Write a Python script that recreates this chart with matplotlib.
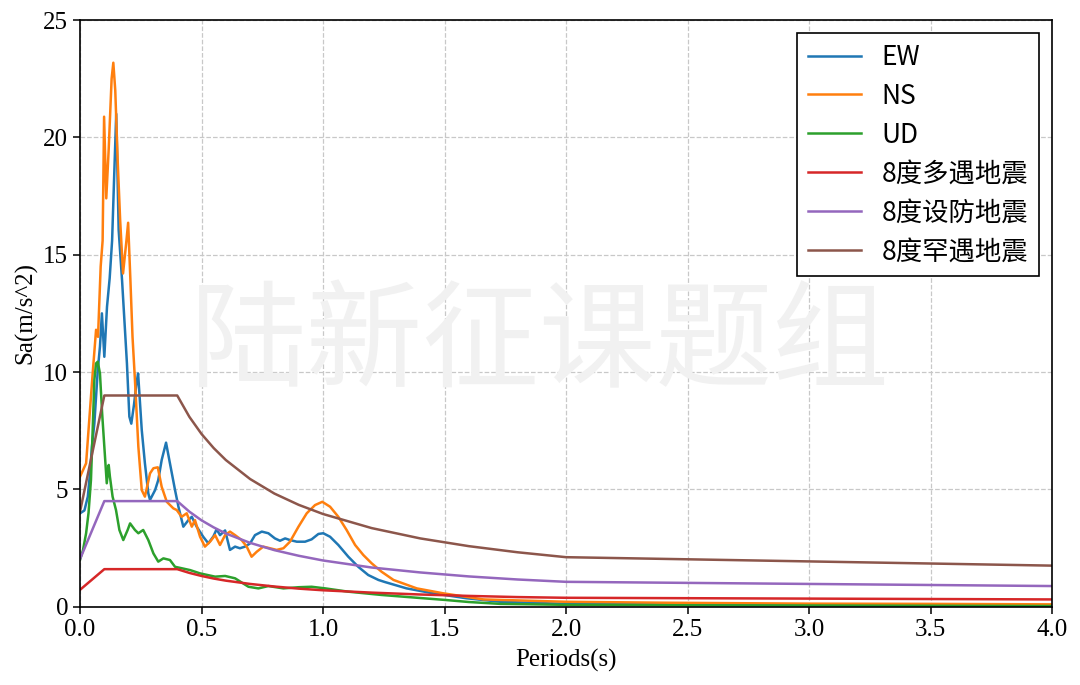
import matplotlib
matplotlib.use("Agg")
import matplotlib.pyplot as plt

# ---------------- data ----------------
EW_T = [0.0, 0.018, 0.032, 0.041, 0.049, 0.059, 0.066, 0.073, 0.082, 0.09, 0.1, 0.111,
        0.122, 0.132, 0.141, 0.149, 0.159, 0.173, 0.193, 0.203, 0.211, 0.222, 0.232, 0.239,
        0.254, 0.267, 0.281, 0.288, 0.309, 0.322, 0.336, 0.354, 0.37, 0.391, 0.405, 0.425,
        0.446, 0.46, 0.48, 0.507, 0.528, 0.549, 0.562, 0.576, 0.597, 0.617, 0.638, 0.658,
        0.679, 0.7, 0.72, 0.748, 0.775, 0.802, 0.823, 0.844, 0.864, 0.892, 0.926, 0.953,
        0.981, 1.001, 1.029, 1.063, 1.104, 1.145, 1.186, 1.228, 1.255, 1.344, 1.454, 1.59,
        1.73, 2.0, 2.5, 3.0, 3.5, 4.0]
EW_Sa = [3.98, 4.1, 4.69, 5.68, 6.82, 7.81, 8.95, 10.08, 11.08, 12.5, 10.65, 12.78,
         14.0, 15.6, 18.5, 21.0, 16.05, 13.9, 10.37, 8.1, 7.8, 8.6, 9.5, 9.94,
         7.53, 6.11, 4.83, 4.55, 4.97, 5.4, 6.25, 6.99, 6.11, 4.97, 4.26, 3.41,
         3.69, 3.83, 3.41, 2.98, 2.7, 3.0, 3.3, 3.05, 3.25, 2.42, 2.56, 2.49,
         2.56, 2.7, 3.05, 3.2, 3.13, 2.91, 2.81, 2.91, 2.84, 2.77, 2.77, 2.87,
         3.1, 3.13, 2.98, 2.63, 2.13, 1.7, 1.35, 1.14, 1.05, 0.78, 0.57, 0.36,
         0.21, 0.12, 0.1, 0.08, 0.07, 0.06]

NS_T = [0.0, 0.025, 0.045, 0.052, 0.06, 0.066, 0.074, 0.085, 0.093, 0.099, 0.108, 0.118,
        0.13, 0.137, 0.145, 0.155, 0.165, 0.177, 0.19, 0.198, 0.207, 0.216, 0.226, 0.24,
        0.254, 0.267, 0.288, 0.302, 0.32, 0.336, 0.357, 0.384, 0.398, 0.418, 0.439, 0.46,
        0.473, 0.494, 0.514, 0.535, 0.556, 0.576, 0.597, 0.617, 0.638, 0.665, 0.686, 0.706,
        0.727, 0.754, 0.782, 0.809, 0.837, 0.864, 0.899, 0.933, 0.967, 0.997, 1.029, 1.063,
        1.097, 1.132, 1.166, 1.2, 1.241, 1.29, 1.386, 1.495, 1.66, 2.0, 2.4, 3.0, 3.5, 4.0]
NS_Sa = [5.54, 6.11, 8.95, 9.94, 11.0, 11.8, 11.5, 14.5, 15.6, 20.88, 17.4, 19.5,
         22.5, 23.18, 22.0, 19.0, 16.5, 14.2, 15.5, 16.36, 14.0, 11.5, 9.66, 6.82,
         4.97, 4.69, 5.68, 5.9, 5.94, 5.11, 4.47, 4.19, 4.12, 3.83, 3.98, 3.41,
         3.69, 2.98, 2.56, 2.77, 3.05, 2.63, 3.05, 3.2, 3.05, 2.84, 2.56, 2.13,
         2.34, 2.56, 2.49, 2.42, 2.49, 2.77, 3.41, 3.98, 4.33, 4.47, 4.26, 3.83,
         3.27, 2.63, 2.2, 1.85, 1.49, 1.14, 0.78, 0.57, 0.31, 0.21, 0.17, 0.13, 0.12, 0.1]

UD_T = [0.0, 0.012, 0.025, 0.035, 0.045, 0.052, 0.059, 0.066, 0.073, 0.082, 0.091, 0.1,
        0.11, 0.118, 0.123, 0.134, 0.148, 0.162, 0.178, 0.196, 0.206, 0.226, 0.24, 0.26,
        0.281, 0.302, 0.322, 0.343, 0.37, 0.391, 0.418, 0.453, 0.494, 0.556, 0.597, 0.638,
        0.693, 0.734, 0.775, 0.837, 0.899, 0.953, 1.01, 1.104, 1.241, 1.4, 1.5, 1.6,
        1.73, 2.0, 2.5, 3.0, 3.5, 4.0]
UD_Sa = [2.0, 2.4, 3.13, 4.0, 5.4, 7.53, 9.66, 10.37, 10.44, 9.94, 8.24, 6.82,
         5.26, 6.04, 5.54, 4.69, 4.12, 3.27, 2.84, 3.27, 3.55, 3.27, 3.13, 3.27,
         2.84, 2.27, 1.92, 2.06, 1.99, 1.7, 1.64, 1.56, 1.42, 1.28, 1.31, 1.21,
         0.85, 0.78, 0.88, 0.78, 0.83, 0.85, 0.78, 0.64, 0.5, 0.37, 0.29, 0.2,
         0.12, 0.08, 0.06, 0.05, 0.04, 0.03]

CODE_T = [0.0, 0.1, 0.4, 0.45, 0.5, 0.55, 0.6, 0.7, 0.8, 0.9, 1.0, 1.2, 1.4, 1.6, 1.8, 2.0, 4.0]
FREQ_Sa = [0.72, 1.6, 1.6, 1.44, 1.31, 1.20, 1.11, 0.97, 0.86, 0.77, 0.70, 0.60, 0.52, 0.46,
           0.41, 0.38, 0.31]
DESIGN_Sa = [2.03, 4.5, 4.5, 4.05, 3.68, 3.38, 3.12, 2.72, 2.41, 2.17, 1.97, 1.67, 1.46, 1.29,
             1.16, 1.06, 0.88]
RARE_Sa = [4.05, 9.0, 9.0, 8.09, 7.36, 6.76, 6.25, 5.44, 4.82, 4.34, 3.95, 3.35, 2.91, 2.58,
           2.32, 2.11, 1.75]

LABELS = ["EW", "NS", "UD", "8度多遇地震", "8度设防地震", "8度罕遇地震"]
X_TICKS = [0.0, 0.5, 1.0, 1.5, 2.0, 2.5, 3.0, 3.5, 4.0]
Y_TICKS = [0, 5, 10, 15, 20, 25]

# ---------------- figure ----------------
SERIF = ["Liberation Serif", "DejaVu Serif"]
CJK = ["Noto Sans CJK SC", "DejaVu Sans"]

fig = plt.figure(figsize=(10.8, 6.85), dpi=100)
ax = fig.add_axes([0.0741, 0.1143, 0.9, 0.8565])

# watermark
fig.text(0.5, 0.495, "陆新征课题组", family=CJK, fontsize=84, color="#f1f1f1",
         ha="center", va="center", zorder=0)

lw = 1.8
ax.plot(EW_T, EW_Sa, color="tab:blue", lw=lw, label=LABELS[0])
ax.plot(NS_T, NS_Sa, color="tab:orange", lw=lw, label=LABELS[1])
ax.plot(UD_T, UD_Sa, color="tab:green", lw=lw, label=LABELS[2])
ax.plot(CODE_T, FREQ_Sa, color="tab:red", lw=lw, label=LABELS[3])
ax.plot(CODE_T, DESIGN_Sa, color="tab:purple", lw=lw, label=LABELS[4])
ax.plot(CODE_T, RARE_Sa, color="tab:brown", lw=lw, label=LABELS[5])

ax.set_xlim(0, 4)
ax.set_ylim(0, 25)
ax.set_xticks(X_TICKS)
ax.set_yticks(Y_TICKS)
ax.set_xticklabels([f"{v:.1f}" for v in X_TICKS], family=SERIF, fontsize=18)
ax.set_yticklabels([str(v) for v in Y_TICKS], family=SERIF, fontsize=18)
ax.set_xlabel("Periods(s)", family=SERIF, fontsize=18, labelpad=6)
ax.set_ylabel("Sa(m/s^2)", family=SERIF, fontsize=18, labelpad=4)
ax.grid(True, linestyle="--", color="#c8c8c8", linewidth=0.9)
ax.set_axisbelow(True)
for s in ax.spines.values():
    s.set_linewidth(1.2)
    s.set_color("black")
ax.tick_params(width=1.1, length=5)
ax.patch.set_alpha(0)

leg = ax.legend(loc="upper right", prop={"family": CJK, "size": 19}, fancybox=False,
                edgecolor="black", framealpha=1, handlelength=2.0, borderaxespad=0.5,
                labelspacing=0.45)
leg.get_frame().set_linewidth(1.2)

fig.savefig("out.png", dpi=100)
